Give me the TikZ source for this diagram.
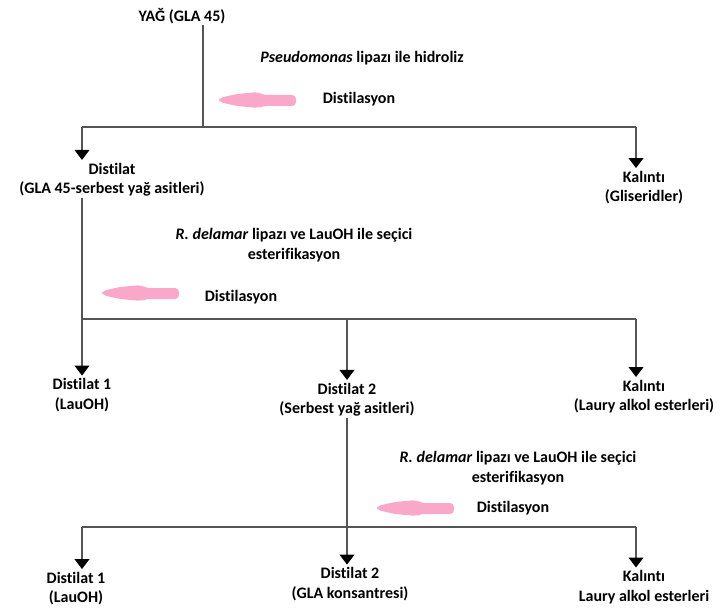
\documentclass[tikz,border=0pt]{standalone}
\usepackage{fontspec}
\setmainfont{Carlito}[Ligatures=NoCommon]
\usetikzlibrary{arrows.meta}
\definecolor{pinkarrow}{RGB}{250,168,202}
\definecolor{linegray}{RGB}{85,85,85}

\tikzset{
  lbl/.style={font=\bfseries\fontsize{12}{14.5}\selectfont, align=center, inner sep=1pt},
  flow/.style={draw=linegray, line width=1.4pt},
  down/.style={flow, -{Triangle[width=11pt,length=7.5pt,color=black]}, shorten >=1pt}
}

\begin{document}
\begin{tikzpicture}[x=0.75pt,y=-0.75pt]
    \useasboundingbox (0,0) rectangle (723,609);
    % texts
    \node[lbl] (yag) at (182,16) {YAĞ (GLA 45)};
    \node[lbl] (hyd) at (362,58) {\textit{Pseudomonas} lipazı ile hidroliz};
    \node[lbl] (dst1) at (359,99) {Distilasyon};
    \node[lbl] (dist) at (112,179.5) {Distilat\\(GLA 45-serbest yağ asitleri)};
    \node[lbl] (kal1) at (644,187.5) {Kalıntı\\(Gliseridler)};
    \node[lbl] (est1) at (294,245) {\textit{R. delamar} lipazı ve LauOH ile seçici\\esterifikasyon};
    \node[lbl] (dst2) at (241,297) {Distilasyon};
    \node[lbl] (d1) at (82,395) {Distilat 1\\(LauOH)};
    \node[lbl] (d2) at (347,399.5) {Distilat 2\\(Serbest yağ asitleri)};
    \node[lbl] (kal2) at (644,396.5) {Kalıntı\\(Laury alkol esterleri)};
    \node[lbl] (est2) at (518,468) {\textit{R. delamar} lipazı ve LauOH ile seçici\\esterifikasyon};
    \node[lbl] (dst3) at (513,508) {Distilasyon};
    \node[lbl] (e1) at (76,588.5) {Distilat 1\\(LauOH)};
    \node[lbl] (e2) at (350,584) {Distilat 2\\(GLA konsantresi)};
    \node[lbl] (kal3) at (644,587) {Kalıntı\\Laury alkol esterleri};
    % junctions
    \coordinate (a) at (203,127);
    \coordinate (al) at (82,127);
    \coordinate (ar) at (636,127);
    \coordinate (bl) at (82,319);
    \coordinate (bm) at (347,319);
    \coordinate (br) at (636,319);
    \coordinate (cl) at (82,527);
    \coordinate (cm) at (347,527);
    \coordinate (cr) at (636,527);
    % first step
    \draw[flow] (yag.south -| a) -- (a);
    \draw[flow] (al) -- (ar);
    \draw[down] (al) -- (al |- dist.north);
    \draw[down] (ar) -- (ar |- kal1.north);
    % second step
    \draw[down] (dist.south -| bl) -- (bl |- d1.north);
    \draw[flow] (bl) -- (br);
    \draw[down] (bm) -- (bm |- d2.north);
    \draw[down] (br) -- (br |- kal2.north);
    % third step
    \draw[down] (d2.south -| cm) -- (cm |- e2.north);
    \draw[flow] (cl) -- (cr);
    \draw[down] (cl) -- (cl |- e1.north);
    \draw[down] (cr) -- (cr |- kal3.north);
    % pink arrows
    \foreach \tx/\ty in {219/100,102/293,377/508}
    \fill[pinkarrow,rounded corners=3pt,shift={(\tx,\ty)}] (0,-2) -- (18,-6) -- (40,-8) -- (43,-5)
        -- (77,-5) -- (77,6) -- (43,6) -- (40,8) -- (18,6) -- (0,2) -- cycle;
\end{tikzpicture}
\end{document}
